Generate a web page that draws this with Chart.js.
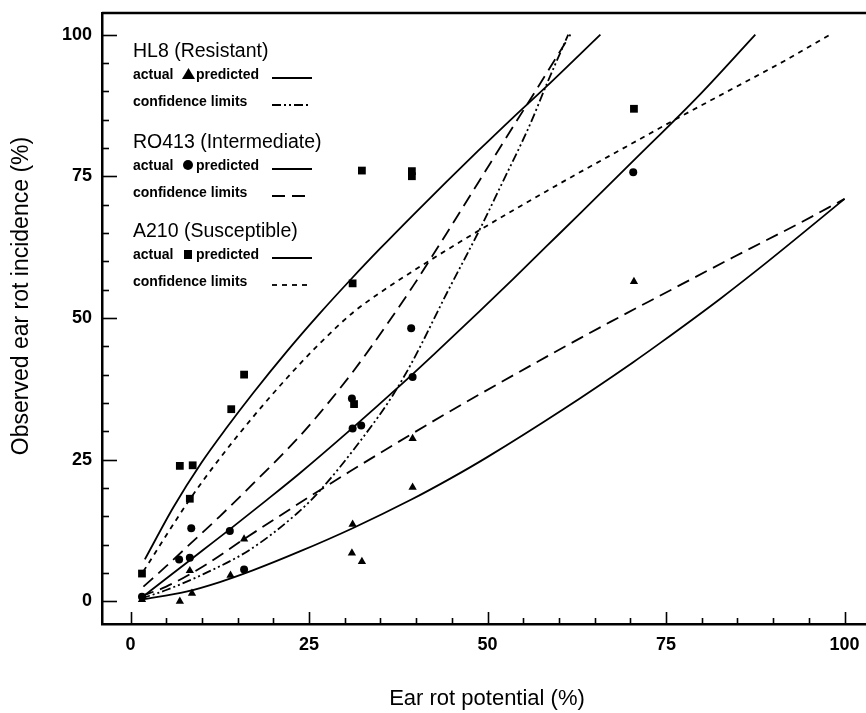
<!DOCTYPE html>
<html>
<head>
<meta charset="utf-8">
<script src="https://cdn.jsdelivr.net/npm/chart.js@4.4.1/dist/chart.umd.min.js"></script>
<style>
  html, body { margin: 0; padding: 0; background: #fff; }
  canvas { display: block; }
</style>
</head>
<body>
<canvas id="myChart" width="866" height="713"></canvas>
<script>
// tick labels
const xTicks = [0, 25, 50, 75, 100]
const yTicks = [0, 25, 50, 75, 100]

// observed points
const hl8ActualX = [1.6, 6.9, 8.6, 8.3, 14.0, 15.9, 31.1, 31.0, 32.4, 39.5, 39.5, 70.5]
const hl8ActualY = [0.3, 0.0, 1.4, 5.4, 4.6, 11.0, 13.6, 8.5, 7.0, 28.7, 20.1, 56.4]

const ro413ActualX = [1.6, 6.8, 8.3, 8.5, 13.9, 15.9, 31.0, 31.1, 32.3, 39.3, 39.5, 70.4]
const ro413ActualY = [0.8, 7.4, 7.7, 12.9, 12.4, 5.6, 35.8, 30.5, 31.0, 48.2, 39.6, 75.7]

const a210ActualX = [1.6, 6.9, 8.7, 8.3, 14.1, 15.9, 31.1, 31.3, 32.4, 39.4, 39.4, 70.5]
const a210ActualY = [4.9, 23.9, 24.0, 18.1, 33.9, 40.0, 56.1, 34.8, 76.0, 75.9, 75.0, 86.9]

// predicted curves
const hl8PredX = [1.5, 7.8, 12.5, 17.2, 23.7, 31.1, 39.4, 44.7, 49.9, 60.5, 70.4, 74.2, 82.6, 89.1, 100]
const hl8PredY = [0.3, 1.7, 3.4, 5.5, 8.8, 12.9, 18.0, 21.6, 25.4, 33.8, 42.2, 45.6, 53.4, 59.8, 71.0]

const ro413PredX = [1.5, 5.5, 10.2, 13.8, 19.1, 23.7, 31.1, 37.7, 42.6, 48.9, 53.6, 58.3, 63.0, 70.4, 79.8, 87.5]
const ro413PredY = [0.6, 4.5, 9.1, 12.6, 17.9, 22.6, 30.6, 38.0, 43.7, 51.2, 56.9, 62.7, 68.5, 77.7, 89.5, 100]

const a210PredX = [2.0, 6.0, 9.9, 13.5, 17.2, 21.9, 26.5, 31.0, 35.0, 39.6, 44.3, 48.7, 53.6, 58.3, 65.8]
const a210PredY = [7.4, 16.6, 24.4, 30.7, 36.8, 44.1, 50.8, 57.0, 62.3, 68.2, 74.1, 79.5, 85.4, 90.9, 100]

// confidence limits
const hl8LimitX = [1.5, 5.0, 10.2, 16.7, 23.3, 26.5, 32.6, 36.8, 39.6, 44.3, 48.9, 51.7, 55.9, 58.3, 61.3]
const hl8LimitY = [0.5, 2.0, 4.8, 9.1, 15.5, 19.5, 29.0, 36.5, 42.6, 54.4, 65.6, 72.9, 84.0, 91.3, 100]

const ro413UpperX = [1.8, 5.0, 8.5, 12.5, 17.2, 23.3, 26.5, 31.2, 35.6, 39.6, 44.3, 48.9, 53.6, 56.9, 61.6]
const ro413UpperY = [2.6, 6.2, 10.3, 15.0, 20.8, 28.6, 33.2, 40.6, 48.3, 55.7, 65.0, 74.3, 83.8, 90.4, 100]

const ro413LowerX = [1.5, 5.0, 10.2, 15.8, 21.9, 26.5, 30.7, 39.6, 44.7, 51.8, 60.9, 67.2, 73.2, 84.4, 93.8, 100]
const ro413LowerY = [0.9, 2.6, 6.2, 10.9, 15.9, 19.6, 22.9, 29.7, 33.5, 38.6, 45.0, 49.3, 53.3, 60.7, 66.8, 71.0]

const a210LimitX = [1.8, 8.3, 12.3, 17.2, 21.9, 26.5, 31.2, 35.0, 39.6, 44.3, 48.9, 53.6, 58.3, 62.5, 70.4, 77.0, 84.4, 91.5, 98.0]
const a210LimitY = [5.3, 18.0, 24.9, 32.6, 39.4, 45.5, 51.0, 54.5, 58.3, 62.0, 65.5, 69.0, 72.4, 75.4, 80.9, 85.5, 90.5, 95.3, 100]

// line styles
const solid = []
const hl8Dash = [9, 3, 2, 3, 2, 3]
const ro413Dash = [13, 7]
const a210Dash = [5, 5]

const FONT = "'Liberation Sans', Arial, Helvetica, sans-serif"

const toPoints = (xs, ys) => xs.map((x, i) => ({ x: x, y: ys[i] }))

function curve(label, xs, ys, dash) {
  return {
    label: label,
    data: toPoints(xs, ys),
    showLine: true,
    borderColor: '#000',
    borderWidth: 1.8,
    borderDash: dash,
    pointRadius: 0,
    fill: false,
    cubicInterpolationMode: 'monotone'
  }
}

function marks(label, xs, ys, style, r) {
  return {
    label: label,
    data: toPoints(xs, ys),
    showLine: false,
    pointStyle: style,
    pointRadius: r,
    backgroundColor: '#000',
    borderColor: '#000',
    borderWidth: 0
  }
}

const data = {
  datasets: [
    curve('HL8 predicted', hl8PredX, hl8PredY, solid),
    curve('HL8 confidence limits', hl8LimitX, hl8LimitY, hl8Dash),
    curve('RO413 predicted', ro413PredX, ro413PredY, solid),
    curve('RO413 upper limit', ro413UpperX, ro413UpperY, ro413Dash),
    curve('RO413 lower limit', ro413LowerX, ro413LowerY, ro413Dash),
    curve('A210 predicted', a210PredX, a210PredY, solid),
    curve('A210 confidence limits', a210LimitX, a210LimitY, a210Dash),
    marks('HL8 actual', hl8ActualX, hl8ActualY, 'triangle', 4.8),
    marks('RO413 actual', ro413ActualX, ro413ActualY, 'circle', 4),
    marks('A210 actual', a210ActualX, a210ActualY, 'rect', 5.5)
  ]
}

// inward tick marks, tick labels, top frame line, axis titles and the in-plot key
const decorations = {
  id: 'decorations',
  afterDraw(chart) {
    const ctx = chart.ctx
    const area = chart.chartArea
    const xs = chart.scales.x, ys = chart.scales.y
    ctx.save()
    ctx.strokeStyle = '#000'
    ctx.fillStyle = '#000'

    // frame top
    ctx.lineWidth = 2.5
    ctx.beginPath()
    ctx.moveTo(area.left, area.top)
    ctx.lineTo(area.right, area.top)
    ctx.stroke()

    // ticks
    ctx.lineWidth = 1.6
    for (let v = 0; v <= 100; v += 5) {
      const major = v % 25 === 0
      const px = Math.round(xs.getPixelForValue(v)) + 0.5
      ctx.beginPath()
      ctx.moveTo(px, area.bottom)
      ctx.lineTo(px, area.bottom - (major ? 12 : 6))
      ctx.stroke()
      const py = Math.round(ys.getPixelForValue(v)) + 0.5
      ctx.beginPath()
      ctx.moveTo(area.left, py)
      ctx.lineTo(area.left + (major ? 15 : 7), py)
      ctx.stroke()
    }

    // tick labels
    ctx.font = 'bold 18px ' + FONT
    ctx.textBaseline = 'middle'
    ctx.textAlign = 'center'
    xTicks.forEach(v => ctx.fillText(String(v), xs.getPixelForValue(v), area.bottom + 21))
    ctx.textAlign = 'right'
    yTicks.forEach(v => ctx.fillText(String(v), area.left - 10, ys.getPixelForValue(v)))

    // axis titles
    ctx.textAlign = 'center'
    ctx.font = '22px ' + FONT
    ctx.fillText('Ear rot potential (%)', 487, 699)
    ctx.save()
    ctx.translate(22, 296)
    ctx.rotate(-Math.PI / 2)
    ctx.font = '23px ' + FONT
    ctx.fillText('Observed ear rot incidence (%)', 0, 0)
    ctx.restore()

    // key
    ctx.textAlign = 'left'
    ctx.textBaseline = 'alphabetic'
    const groups = [
      { title: 'HL8 (Resistant)', y: 57, mark: 'triangle', dash: hl8Dash },
      { title: 'RO413 (Intermediate)', y: 148, mark: 'circle', dash: ro413Dash },
      { title: 'A210 (Susceptible)', y: 237, mark: 'rect', dash: a210Dash }
    ]
    groups.forEach(g => {
      ctx.font = '19.5px ' + FONT
      ctx.fillText(g.title, 133, g.y)
      ctx.font = 'bold 14px ' + FONT
      const r1 = g.y + 22, r2 = g.y + 49
      ctx.fillText('actual', 133, r1)
      ctx.fillText('predicted', 196, r1)
      ctx.fillText('confidence limits', 133, r2)
      // marker
      ctx.beginPath()
      if (g.mark === 'triangle') {
        ctx.moveTo(182, r1)
        ctx.lineTo(195, r1)
        ctx.lineTo(188.5, r1 - 11)
        ctx.closePath()
        ctx.fill()
      } else if (g.mark === 'circle') {
        ctx.arc(188, r1 - 5, 5, 0, Math.PI * 2)
        ctx.fill()
      } else {
        ctx.fillRect(184, r1 - 9, 8, 9)
      }
      // line samples
      ctx.lineWidth = 1.8
      ctx.setLineDash([])
      ctx.beginPath()
      ctx.moveTo(272, r1 - 1)
      ctx.lineTo(312, r1 - 1)
      ctx.stroke()
      ctx.setLineDash(g.dash)
      ctx.beginPath()
      ctx.moveTo(272, r2 - 1)
      ctx.lineTo(311, r2 - 1)
      ctx.stroke()
      ctx.setLineDash([])
    })
    ctx.restore()
  }
}

const config = {
  type: 'scatter',
  data: data,
  options: {
    responsive: false,
    animation: false,
    events: [],
    layout: { autoPadding: false, padding: { top: 13, right: 0, bottom: 0, left: 0 } },
    plugins: {
      legend: { display: false },
      tooltip: { enabled: false }
    },
    scales: {
      x: {
        type: 'linear',
        min: -4,
        max: 103,
        afterFit: s => { s.height = 89 },
        grid: { display: false, drawTicks: false },
        border: { display: true, color: '#000', width: 2.5 },
        ticks: { display: false }
      },
      y: {
        type: 'linear',
        min: -4,
        max: 103.8,
        afterFit: s => { s.width = 102 },
        grid: { display: false, drawTicks: false },
        border: { display: true, color: '#000', width: 2.5 },
        ticks: { display: false }
      }
    }
  },
  plugins: [decorations]
}

const myChart = new Chart(document.getElementById('myChart'), config)
</script>
</body>
</html>
